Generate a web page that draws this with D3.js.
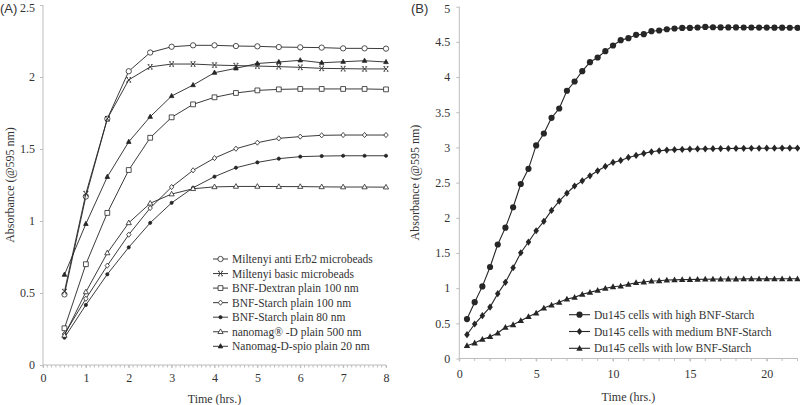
<!DOCTYPE html>
<html><head><meta charset="utf-8">
<script src="https://cdn.jsdelivr.net/npm/d3@7"></script>
<style>
body{margin:0;background:#fff}
svg{display:block}
text{font-family:"Liberation Serif","Times New Roman",serif;fill:#333}
</style></head>
<body><svg id="c" width="800" height="405"></svg>
<script>
// ---------- Panel A data ----------
const timesA = [0.5,1,1.5,2,2.5,3,3.5,4,4.5,5,5.5,6,6.5,7,7.5,8];
const namesA = ["Miltenyi anti Erb2 microbeads","Miltenyi basic microbeads","BNF-Dextran plain 100 nm","BNF-Starch plain 100 nm","BNF-Starch plain 80 nm","nanomag\u00AE -D plain 500 nm","Nanomag-D-spio plain 20 nm"];
const symbolsA = ["circle","x","square","diamondOpen","dot","triangleOpen","triangle"];
const erb2 = [0.49,1.17,1.71,2.04,2.17,2.21,2.22,2.22,2.215,2.213,2.208,2.206,2.204,2.199,2.199,2.197];
const basic = [0.51,1.19,1.71,1.98,2.07,2.09,2.09,2.083,2.079,2.076,2.072,2.067,2.06,2.058,2.056,2.056];
const dextran100 = [0.255,0.70,1.056,1.354,1.578,1.72,1.81,1.859,1.889,1.907,1.914,1.917,1.917,1.917,1.917,1.914];
const starch100 = [0.215,0.46,0.69,0.905,1.09,1.236,1.352,1.437,1.502,1.544,1.574,1.586,1.595,1.597,1.597,1.597];
const starch80 = [0.19,0.417,0.63,0.817,0.987,1.126,1.231,1.308,1.37,1.407,1.433,1.447,1.451,1.453,1.453,1.453];
const nanomag500 = [0.205,0.507,0.778,0.987,1.123,1.187,1.224,1.237,1.24,1.24,1.239,1.239,1.237,1.236,1.236,1.235];
const spio20 = [0.627,0.98,1.307,1.55,1.724,1.868,1.944,2.03,2.06,2.094,2.104,2.116,2.099,2.106,2.113,2.104];
const seriesA = [erb2,basic,dextran100,starch100,starch80,nanomag500,spio20];
const yTicksA = [0,0.5,1,1.5,2,2.5];
const xTicksA = [0,1,2,3,4,5,6,7,8];

// ---------- Panel B data ----------
const timesB = [0.5,1,1.5,2,2.5,3,3.5,4,4.5,5,5.5,6,6.5,7,7.5,8,8.5,9,9.5,10,10.5,11,11.5,12,12.5,13,13.5,14,14.5,15,15.5,16,16.5,17,17.5,18,18.5,19,19.5,20,20.5,21,21.5,22];
const namesB = ["Du145 cells with high BNF-Starch","Du145 cells with medium BNF-Starch","Du145 cells with low BNF-Starch"];
const symbolsB = ["bigCircle","bigDiamond","bigTriangle"];
const high = [0.56,0.80,1.025,1.30,1.62,1.86,2.15,2.48,2.696,3.028,3.198,3.421,3.553,3.805,3.937,4.084,4.212,4.278,4.368,4.449,4.524,4.553,4.60,4.609,4.652,4.662,4.68,4.69,4.699,4.699,4.704,4.713,4.708,4.706,4.705,4.705,4.704,4.704,4.703,4.703,4.702,4.702,4.701,4.70];
const medium = [0.338,0.49,0.608,0.731,0.921,1.082,1.29,1.503,1.655,1.816,1.949,2.105,2.237,2.35,2.452,2.525,2.597,2.668,2.73,2.787,2.815,2.858,2.886,2.915,2.938,2.952,2.962,2.968,2.972,2.976,2.978,2.98,2.982,2.984,2.985,2.986,2.987,2.988,2.988,2.989,2.989,2.99,2.99,2.99];
const low = [0.182,0.22,0.272,0.31,0.362,0.443,0.48,0.537,0.594,0.646,0.717,0.76,0.798,0.845,0.869,0.912,0.94,0.969,0.997,1.02,1.03,1.054,1.077,1.087,1.101,1.105,1.115,1.118,1.121,1.123,1.125,1.127,1.128,1.129,1.13,1.13,1.131,1.131,1.132,1.132,1.132,1.133,1.133,1.133];
const seriesB = [high,medium,low];
const yTicksB = [0,0.5,1,1.5,2,2.5,3,3.5,4,4.5,5];
const xTicksB = [0,5,10,15,20];

const svg = d3.select("#c");
const INK = "#262626", AX = "#bdbdbd";

function marker(g, type, x, y){
  const s = g.append("path").attr("transform",`translate(${x},${y})`).attr("stroke",INK).attr("stroke-width",0.8);
  switch(type){
    case "circle": s.attr("d",d3.symbol(d3.symbolCircle,22)()).attr("fill","#fff"); break;
    case "square": s.attr("d","M-2.4,-2.4H2.4V2.4H-2.4Z").attr("fill","#fff"); break;
    case "x": s.attr("d","M-2.3,-2.3L2.3,2.3M-2.3,2.3L2.3,-2.3M-2.3,-2.3H-0.8M0.8,-2.3H2.3M-2.3,2.3H-0.8M0.8,2.3H2.3").attr("fill","none"); break;
    case "diamondOpen": s.attr("d","M0,-2.6L2.2,0L0,2.6L-2.2,0Z").attr("fill","#fff"); break;
    case "dot": s.attr("d",d3.symbol(d3.symbolCircle,8)()).attr("fill",INK); break;
    case "triangleOpen": s.attr("d","M0,-2.8L2.6,1.8H-2.6Z").attr("fill","#fff"); break;
    case "triangle": s.attr("d","M0,-2.6L2.3,1.6H-2.3Z").attr("fill",INK); break;
    case "bigCircle": s.attr("d",d3.symbol(d3.symbolCircle,30)()).attr("fill",INK).attr("stroke","none"); break;
    case "bigDiamond": s.attr("d","M0,-3.6L2.8,0L0,3.6L-2.8,0Z").attr("fill",INK).attr("stroke","none"); break;
    case "bigTriangle": s.attr("d","M0,-3.4L3.2,2.4H-3.2Z").attr("fill",INK).attr("stroke","none"); break;
  }
}

function panel(o){
  const g = svg.append("g");
  const x = d3.scaleLinear().domain(o.xd).range(o.xr);
  const y = d3.scaleLinear().domain(o.yd).range(o.yr);
  // y axis
  const ya = g.append("g").attr("transform",`translate(${o.xr[0]},0)`)
    .call(d3.axisLeft(y).tickValues(o.yTicks).tickSize(3).tickPadding(o.ypad).tickFormat(d3.format("")));
  ya.select(".domain").attr("stroke",AX).attr("d",`M0,${o.yr[1]}V${o.yr[0]}`);
  ya.selectAll(".tick line").attr("stroke",AX);
  ya.selectAll("text").style("font-size","12px").attr("fill","#333")
    .attr("dy",d=>d===o.yd[1]?"0.5em":"0.32em");
  // x axis
  const xa = g.append("g").attr("transform",`translate(0,${o.yr[0]})`)
    .call(d3.axisBottom(x).tickValues(o.xTicks).tickSize(3).tickPadding(o.xpad).tickFormat(d3.format("")));
  xa.select(".domain").attr("stroke",AX).attr("d",`M${o.xr[0]},0H${o.xr[1]}`);
  xa.selectAll(".tick line").attr("stroke",AX);
  xa.selectAll("text").style("font-size","12px").attr("fill","#333");
  // minor ticks
  g.append("g").selectAll("line").data(d3.range(o.xd[0],o.xd[1]+1e-9,o.minor)).join("line")
    .attr("x1",d=>x(d)).attr("x2",d=>x(d)).attr("y1",o.yr[0]).attr("y2",o.yr[0]+2.5)
    .attr("stroke",AX).attr("stroke-width",1);
  // titles
  g.append("text").attr("transform",`translate(${o.ytx},${(o.yr[0]+o.yr[1])/2}) rotate(-90)`)
    .attr("text-anchor","middle").attr("dy","0.35em").style("font-size","12px").text("Absorbance (@595 nm)");
  g.append("text").attr("x",(o.xr[0]+o.xr[1])/2).attr("y",o.xty).attr("text-anchor","middle")
    .attr("dy","0.35em").style("font-size","12px").text("Time (hrs.)");
  g.append("text").attr("x",o.lx).attr("y",8).attr("dy","0.35em")
    .style("font-family","'Liberation Sans',Arial,sans-serif").style("font-size","13px").text(o.label);
  // series
  const line = d3.line().x(d=>x(d[0])).y(d=>y(d[1]));
  o.series.forEach((vals,i)=>{
    const pts = o.times.map((t,j)=>[t,vals[j]]);
    g.append("path").datum(pts).attr("d",line).attr("fill","none").attr("stroke",INK).attr("stroke-width",o.lw);
    const mg = g.append("g");
    pts.forEach(p=>marker(mg,o.symbols[i],x(p[0]),y(p[1])));
  });
  // legend
  const lg = g.append("g");
  o.names.forEach((n,i)=>{
    const yy = o.legY + i*o.legDy;
    lg.append("line").attr("x1",o.legX).attr("x2",o.legX+o.legW).attr("y1",yy).attr("y2",yy).attr("stroke",INK).attr("stroke-width",o.lw);
    marker(lg,o.symbols[i],o.legX+o.legW/2,yy);
    lg.append("text").attr("x",o.legX+o.legW+4).attr("y",yy).attr("dy","0.35em").style("font-size","11.5px").text(n);
  });
}

panel({xd:[0,8],xr:[43,386],yd:[0,2.5],yr:[365,5],yTicks:yTicksA,xTicks:xTicksA,minor:0.1,
  ypad:5,xpad:5,ytx:10,xty:398.5,lx:0,label:"(A)",times:timesA,series:seriesA,symbols:symbolsA,names:namesA,
  lw:0.9,legX:213,legW:15,legY:259,legDy:14.55});
panel({xd:[0,22],xr:[459.3,797.5],yd:[0,5],yr:[358.5,6.7],yTicks:yTicksB,xTicks:xTicksB,minor:1,
  ypad:6,xpad:8,ytx:415,xty:396.5,lx:411,label:"(B)",times:timesB,series:seriesB,symbols:symbolsB,names:namesB,
  lw:1.1,legX:569,legW:21,legY:314.7,legDy:16.8});
</script></body></html>
